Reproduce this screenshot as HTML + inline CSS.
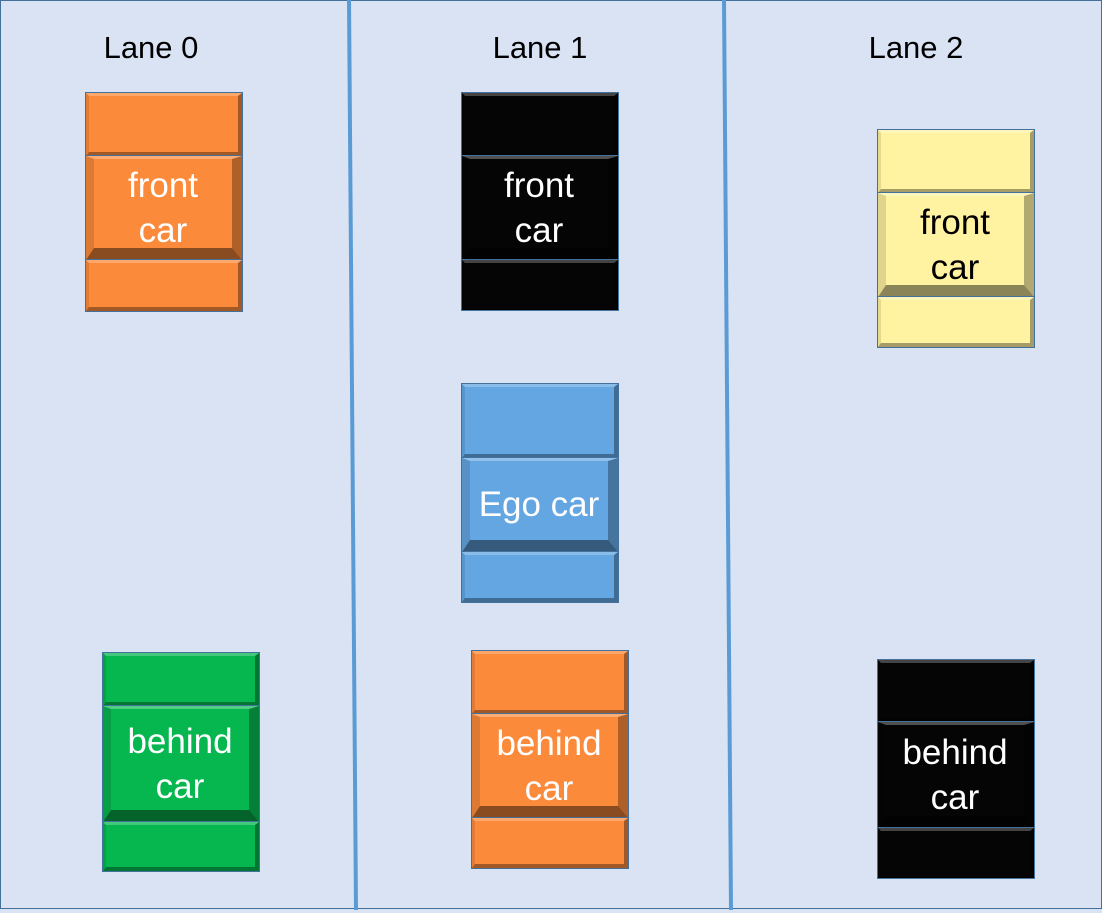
<!DOCTYPE html>
<html><head><meta charset="utf-8">
<style>
html,body{margin:0;padding:0;}
body{width:1102px;height:913px;position:relative;overflow:hidden;background:#dae3f3;font-family:"Liberation Sans",sans-serif;}
#frame{position:absolute;left:0;top:0;width:1100px;height:907px;border:1px solid #41719c;}
.lbl{position:absolute;font-size:31px;color:#000;width:200px;text-align:center;top:30px;}
.car{position:absolute;width:158px;box-sizing:border-box;border:1px solid #41719c;}
.seg{position:absolute;left:0;right:0;box-sizing:border-box;border-style:solid;border-width:3px 4px 4px 3px;border-color:rgba(255,255,255,.25) rgba(0,0,0,.35) rgba(0,0,0,.35) rgba(0,0,0,.1);}
.mid{border-width:3px 10px 12px 8px;border-color:rgba(255,255,255,.3) rgba(0,0,0,.3) rgba(0,0,0,.45) rgba(0,0,0,.12);border-top:3px solid rgba(255,255,255,.3);display:flex;align-items:center;justify-content:center;text-align:center;font-size:35px;line-height:45px;color:#fff;white-space:nowrap;padding-top:8px;}
.line{position:absolute;border-top:1px solid #41719c;left:0;right:0;}
</style></head><body>
<div id="frame"></div>
<svg width="1102" height="913" style="position:absolute;left:0;top:0">
<line x1="349" y1="0" x2="356" y2="910" stroke="#5b9bd5" stroke-width="4"/>
<line x1="724" y1="0" x2="731" y2="910" stroke="#5b9bd5" stroke-width="4"/>
</svg>
<div class="lbl" style="left:51px">Lane 0</div>
<div class="lbl" style="left:440px">Lane 1</div>
<div class="lbl" style="left:816px">Lane 2</div>
<div id="cars"></div>
<script>
const names=['lane0-front-car','lane0-behind-car','lane1-front-car','ego-car','lane1-behind-car','lane2-front-car','lane2-behind-car'];
const labels=['front<br>car','behind<br>car','front<br>car','Ego car','behind<br>car','front<br>car','behind<br>car'];
const colors=['#fb8a3b','#06b64f','#050505','#63a6e2','#fb8a3b','#fff2a1','#050505'];
const textColors=['#fff','#fff','#fff','#fff','#fff','#000','#fff'];
const xs=[85,102,461,461,471,877,877];
const ys=[92,652,92,383,650,129,659];
const d1=[63,53,63,74,63,63,62];
const d2=[167,169,167,168,167,167,168];
const hs=[220,220,219,220,219,219,220];
const root=document.getElementById('cars');
for(let i=0;i<names.length;i++){
  const c=document.createElement('div');
  c.className='car';
  
  
  c.style.cssText=`left:${xs[i]}px;top:${ys[i]}px;height:${hs[i]}px;background:${colors[i]}`;
  const parts=[[0,d1[i]],[d1[i],d2[i]],[d2[i],hs[i]-2]];
  parts.forEach((p,j)=>{
    const s=document.createElement('div');
    s.className='seg'+(j===1?' mid':'');
    
    
    s.style.top=p[0]+'px';s.style.height=(p[1]-p[0])+'px';
    if(j===1){s.innerHTML=labels[i];s.style.color=textColors[i];}
    c.appendChild(s);
    if(j>0){const l=document.createElement('div');l.className='line';l.style.top=(p[0]-1)+'px';
      
      
      c.appendChild(l);}
  });
  root.appendChild(c);
}
</script>
</body></html>
